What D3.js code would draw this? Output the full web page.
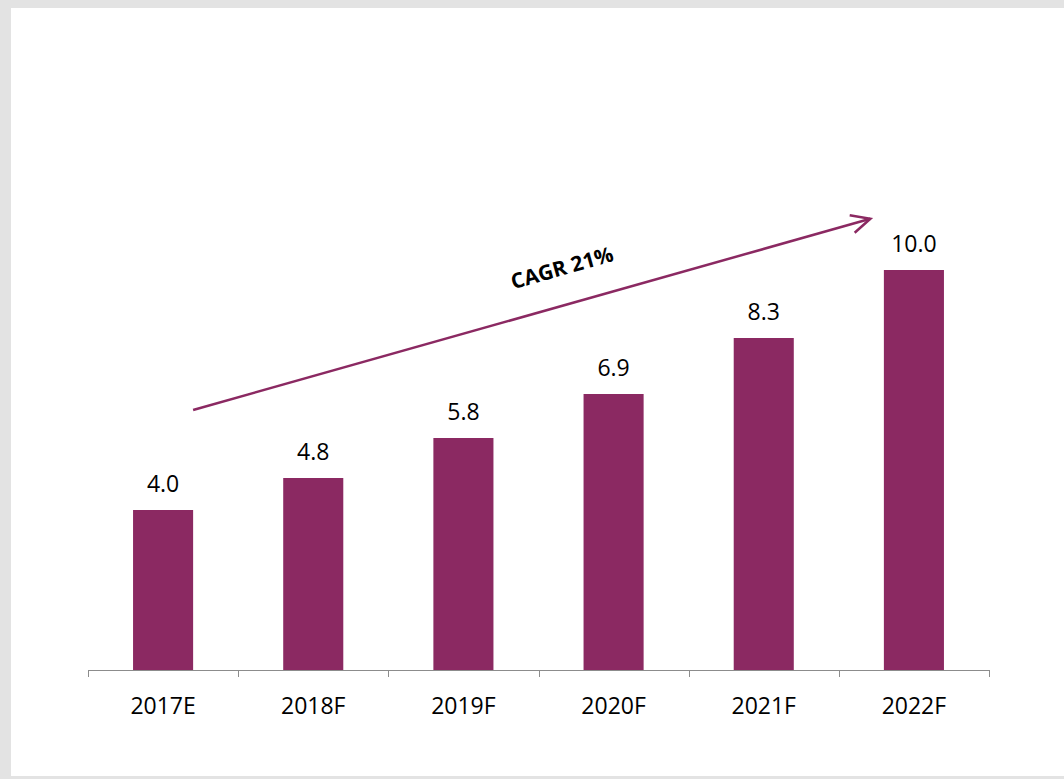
<!DOCTYPE html>
<html>
<head>
<meta charset="utf-8">
<script src="https://cdn.jsdelivr.net/npm/d3@7"></script>
<style>
  html, body { margin: 0; padding: 0; background: #e3e3e3; }
  svg { display: block; }
</style>
</head>
<body>
<svg id="chart" width="1064" height="779"></svg>
<script>
// Market size forecast, 2017E–2022F
const categories = ["2017E", "2018F", "2019F", "2020F", "2021F", "2022F"];
const values = [4.0, 4.8, 5.8, 6.9, 8.3, 10.0];
const valueLabels = ["4.0", "4.8", "5.8", "6.9", "8.3", "10.0"];
const cagrLabel = "CAGR 21%";
// growth arrow endpoints, in (category index position, value) terms
const arrowFrom = { x: 0.70, y: 6.5 };
const arrowTo = { x: 5.21, y: 11.28 };

const svg = d3.select("#chart");
const W = 1064, H = 779;

// white panel
svg.append("rect").attr("x", 11).attr("y", 8).attr("width", W - 11).attr("height", 768).attr("fill", "#ffffff");

const left = 88, right = 989, baseline = 670;
const x = d3.scaleBand().domain(categories).range([left, right]).paddingInner(0.6).paddingOuter(0.3);
const y = d3.scaleLinear().domain([0, 12]).range([baseline, baseline - 480]);
const xPos = d3.scaleLinear().domain([0, categories.length]).range([left, right]);

const color = "#8b2962";
const font = "'Open Sans', 'Noto Sans', sans-serif";

// bars
svg.append("g").selectAll("rect").data(values).join("rect")
  .attr("x", (d, i) => x(categories[i]))
  .attr("y", d => y(d))
  .attr("width", x.bandwidth())
  .attr("height", d => y(0) - y(d))
  .attr("fill", color);

// value labels
svg.append("g").selectAll("text").data(values).join("text")
  .attr("x", (d, i) => x(categories[i]) + x.bandwidth() / 2)
  .attr("y", d => y(d) - 18)
  .attr("text-anchor", "middle")
  .attr("font-family", font)
  .attr("font-size", 23)
  .attr("fill", "#000")
  .text((d, i) => valueLabels[i]);

// category axis with ticks on band boundaries
const axisG = svg.append("g").attr("stroke", "#8c8c8c").attr("stroke-width", 1);
axisG.append("line").attr("x1", left).attr("x2", right).attr("y1", baseline + 0.5).attr("y2", baseline + 0.5);
d3.range(categories.length + 1).forEach(i => {
  const tx = Math.round(xPos(i)) + 0.5;
  axisG.append("line").attr("x1", tx).attr("x2", tx).attr("y1", baseline).attr("y2", baseline + 7);
});
svg.append("g").selectAll("text").data(categories).join("text")
  .attr("x", d => x(d) + x.bandwidth() / 2)
  .attr("y", 714)
  .attr("text-anchor", "middle")
  .attr("font-family", font)
  .attr("font-size", 23)
  .attr("fill", "#000")
  .text(d => d);

// growth arrow
const x1 = xPos(arrowFrom.x), y1 = y(arrowFrom.y);
const x2 = xPos(arrowTo.x), y2 = y(arrowTo.y);
const ang = Math.atan2(y2 - y1, x2 - x1);
svg.append("line")
  .attr("x1", x1).attr("y1", y1).attr("x2", x2).attr("y2", y2)
  .attr("stroke", color).attr("stroke-width", 2.5);
const head = 21, spread = 0.45;
const wing = a => [x2 - head * Math.cos(ang + a), y2 - head * Math.sin(ang + a)];
svg.append("path")
  .attr("d", d3.line()([wing(-spread), [x2, y2], wing(spread)]))
  .attr("fill", "none").attr("stroke", color).attr("stroke-width", 2.5)
  .attr("stroke-linejoin", "miter");

// CAGR label along the arrow
const deg = ang * 180 / Math.PI;
svg.append("text")
  .attr("transform", `translate(564,275) rotate(${deg})`)
  .attr("text-anchor", "middle")
  .attr("font-family", font)
  .attr("font-weight", "bold")
  .attr("font-size", 21)
  .attr("fill", "#000")
  .text(cagrLabel);
</script>
</body>
</html>
